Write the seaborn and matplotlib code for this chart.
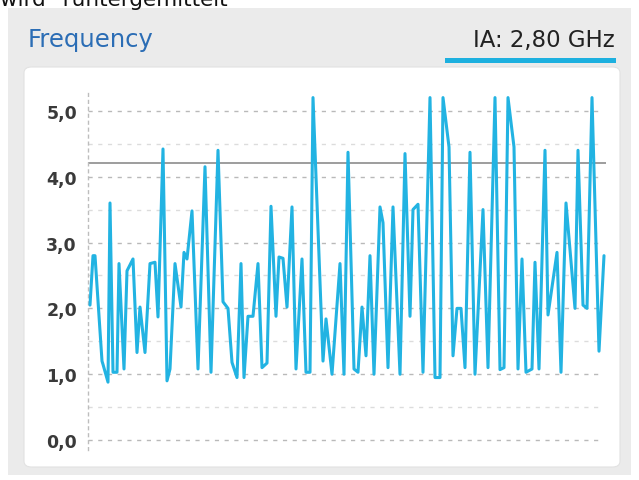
import numpy as np
import pandas as pd
import matplotlib
matplotlib.use("Agg")
import matplotlib.pyplot as plt
from matplotlib.patches import FancyBboxPatch, Rectangle
import seaborn as sns

# sample positions (time steps) and frequency values in GHz
t = [0, 3, 5, 12, 13, 18, 20, 23, 27, 29, 34, 37, 43, 47, 50, 55, 60, 65, 68, 73,
     77, 80, 85, 91, 94, 97, 102, 108, 115, 121, 128, 133, 138, 142, 147, 151, 154,
     158, 163, 168, 172, 177, 181, 186, 189, 193, 197, 202, 206, 212, 216, 220, 223,
     233, 236, 242, 250, 254, 258, 264, 268, 272, 276, 280, 284, 290, 293, 298, 303,
     310, 315, 320, 323, 328, 333, 340, 345, 350, 353, 359, 363, 367, 371, 375, 380,
     385, 393, 398, 405, 410, 414, 418, 424, 428, 432, 436, 442, 445, 449, 455, 458,
     467, 471, 476, 485, 488, 493, 497, 502, 509, 514]
freq = [2.05, 2.8, 2.8, 1.2, 1.15, 0.88, 3.6, 1.03, 1.03, 2.68, 1.08, 2.57, 2.75, 1.33,
        2.02, 1.33, 2.68, 2.7, 1.87, 4.42, 0.9, 1.08, 2.68, 2.02, 2.85, 2.75, 3.48, 1.08,
        4.15, 1.03, 4.4, 2.1, 2.0, 1.18, 0.95, 2.68, 0.95, 1.88, 1.88, 2.68, 1.1, 1.17,
        3.55, 1.88, 2.78, 2.76, 2.02, 3.54, 1.08, 2.75, 1.03, 1.03, 5.2, 1.2, 1.84, 1.0,
        2.68, 1.0, 4.37, 1.08, 1.03, 2.02, 1.28, 2.8, 1.0, 3.54, 3.3, 1.1, 3.54, 1.0,
        4.35, 1.88, 3.5, 3.58, 1.03, 5.2, 0.95, 0.95, 5.2, 4.45, 1.28, 2.0, 2.0, 1.1,
        4.37, 1.0, 3.5, 1.1, 5.2, 1.07, 1.1, 5.2, 4.45, 1.08, 2.75, 1.03, 1.08, 2.7,
        1.08, 4.4, 1.9, 2.85, 1.03, 3.6, 2.0, 4.4, 2.05, 2.0, 5.2, 1.35, 2.8]
avg_line = 4.2
y_ticks = [0, 1, 2, 3, 4, 5]
y_tick_labels = ["0,0", "1,0", "2,0", "3,0", "4,0", "5,0"]
title = "Frequency"
badge = "IA: 2,80 GHz"
caption = 'wird "runtergemittelt"'

df = pd.DataFrame({"t": t, "freq": freq})

sns.set_theme(style="white")
plt.rcParams["font.family"] = ["DejaVu Sans"]

W, H = 639, 481
fig = plt.figure(figsize=(W / 100, H / 100), dpi=100, facecolor="white")


def px(x0, y0, w, h):
    # figure pixel box (top-left origin) -> figure fractions
    return x0 / W, 1 - (y0 + h) / H, w / W, h / H


# gray panel, white card, cyan underline
x0, y0, w, h = px(8, 9, 623, 467)
fig.patches.append(Rectangle((x0, y0), w, h, transform=fig.transFigure,
                             facecolor="#ebebeb", edgecolor="none", zorder=0))
x0, y0, w, h = px(24, 68, 596, 400)
fig.patches.append(FancyBboxPatch((x0, y0), w, h, transform=fig.transFigure,
                                  boxstyle="round,pad=0,rounding_size=0.012",
                                  facecolor="white", edgecolor="#e2e2e2", lw=0.8, zorder=1))
x0, y0, w, h = px(445, 59, 171, 5)
fig.patches.append(Rectangle((x0, y0), w, h, transform=fig.transFigure,
                             facecolor="#1db0df", edgecolor="none", zorder=2))

fig.text(0 / W, 1 - 6 / H, caption, fontsize=15.5, color="#111111", va="baseline")
fig.text(28 / W, 1 - 40 / H, title, fontsize=17.5, color="#2b6db5", va="center")
fig.text(615 / W, 1 - 41 / H, badge, fontsize=16.5, color="#222222", va="center", ha="right")

ax = fig.add_axes([88 / W, (H - 451) / H, 518 / W, (451 - 92) / H])
ax.set_zorder(5)
ax.set_facecolor("none")

# dashed grid every 0.5
for g in np.arange(0, 5.01, 0.5):
    major = float(g).is_integer()
    ax.axhline(g, xmin=0, xmax=0.985, color="#b9b9b9" if major else "#dcdcdc",
               lw=1.0, ls=(0, (3, 4)), zorder=1)

ax.axhline(avg_line, color="#8c8c8c", lw=1.2, zorder=2)
sns.lineplot(data=df, x="t", y="freq", ax=ax, color="#22b3e2", lw=2.2, zorder=3)

ax.set_xlim(-2, 516)
ax.set_ylim(-0.15, 5.3)
ax.set_yticks(y_ticks)
ax.set_yticklabels(y_tick_labels, fontsize=12.5, fontweight="bold", color="#3a3a3a")
ax.set_xticks([])
ax.set_xlabel("")
ax.set_ylabel("")
ax.tick_params(axis="y", length=3, color="#bbbbbb", pad=5)
for s in ["top", "right", "bottom"]:
    ax.spines[s].set_visible(False)
ax.spines["left"].set_color("#bdbdbd")
ax.spines["left"].set_linestyle((0, (2, 3)))
ax.spines["left"].set_linewidth(1.0)

fig.savefig("out.png", dpi=100, facecolor="white")
